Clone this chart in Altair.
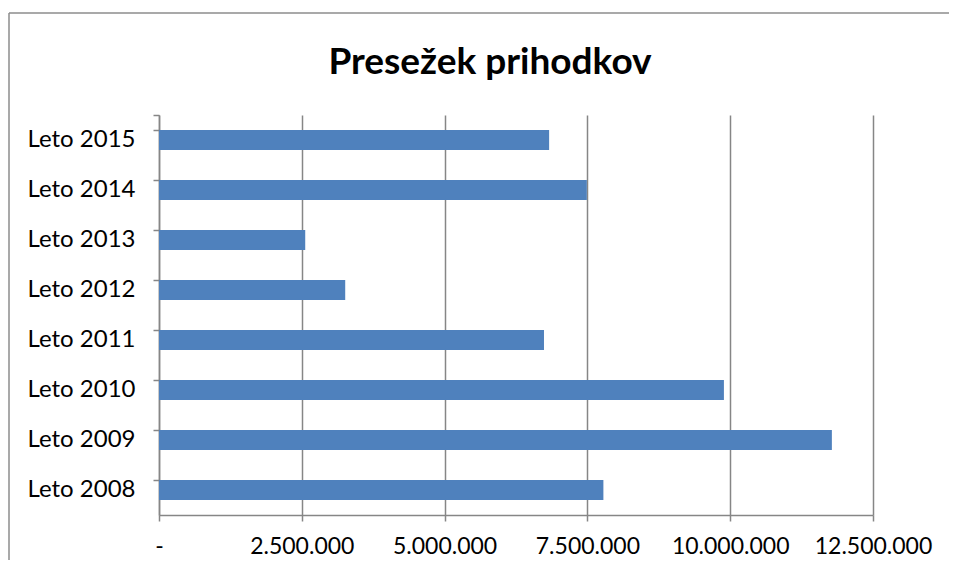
import altair as alt
import pandas as pd

categories = ["Leto 2008", "Leto 2009", "Leto 2010", "Leto 2011",
              "Leto 2012", "Leto 2013", "Leto 2014", "Leto 2015"]
values = [7780000, 11780000, 9890000, 6740000,
          3260000, 2560000, 7490000, 6830000]
x_ticks = [0, 2500000, 5000000, 7500000, 10000000, 12500000]

df = pd.DataFrame({"leto": categories, "znesek": values})
FONT = "Lato"
GRAY = "#868686"

bars = alt.Chart(df).mark_bar(color="#4F81BD").encode(
    y=alt.Y("leto:N", sort=categories[::-1], title=None,
            scale=alt.Scale(paddingInner=0.6, paddingOuter=0.3),
            axis=alt.Axis(bandPosition=0, tickExtra=True, tickSize=6,
                          tickColor=GRAY, domainColor=GRAY, labelFont=FONT,
                          labelFontSize=24, labelColor="#000000",
                          labelPadding=18, grid=False, domainWidth=1.5,
                          tickWidth=1.5)),
    x=alt.X("znesek:Q", title=None,
            scale=alt.Scale(domain=[0, 12500000], nice=False),
            axis=alt.Axis(values=x_ticks, tickSize=6, tickColor=GRAY,
                          domainColor=GRAY, gridColor=GRAY, gridWidth=1.5,
                          domainWidth=1.5, tickWidth=1.5,
                          labelFont=FONT, labelFontSize=23,
                          labelColor="#000000", labelPadding=14,
                          labelOverlap=False, labelFlush=False,
                          labelExpr="datum.value == 0 ? '-' : join(split(format(datum.value, ','), ','), '.')")),
)

frame_top = alt.Chart(alt.Data(values=[{}])).mark_rule(
    color="#8C8C8C", strokeWidth=1.5
).encode(x=alt.value(-150), x2=alt.value(900), y=alt.value(-102))

frame_left = alt.Chart(alt.Data(values=[{}])).mark_rule(
    color="#8C8C8C", strokeWidth=1.5
).encode(x=alt.value(-150), y=alt.value(-102), y2=alt.value(480))

chart = alt.layer(frame_top, frame_left, bars).properties(
    width=714, height=400,
    padding={"left": 151, "top": 107, "right": 76, "bottom": 45},
    autosize=alt.AutoSizeParams(type="none"),
    title=alt.TitleParams("Presežek prihodkov", font=FONT, fontSize=37,
                          fontWeight="bold", color="#000000",
                          anchor="middle", offset=-70, dx=-26),
).configure_view(stroke=None)

chart.save("out.html", embed_options={"renderer": "svg", "actions": False})
